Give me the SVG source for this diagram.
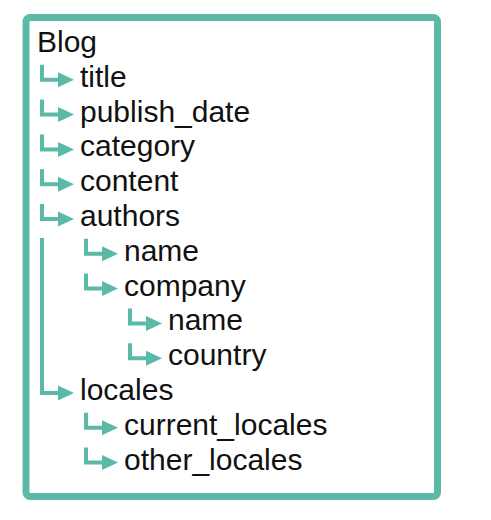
<svg xmlns="http://www.w3.org/2000/svg" width="491" height="520" viewBox="0 0 491 520">
<defs>
<style>
.t{font-family:"Liberation Sans",Arial,sans-serif;font-size:30px;fill:#111}
.c{fill:none;stroke:#5bb9a8;stroke-width:4}
.h{fill:#5bb9a8}
</style>
<g id="ar">
<path class="c" d="M-38,-22V-7H-20"/>
<polygon class="h" points="-22,-14.5 -6,-7 -22,0.5"/>
</g>
</defs>
<rect x="26" y="17.5" width="411.5" height="479" rx="4" fill="#fff" stroke="#5bb9a8" stroke-width="7"/>
<g id="connectors">
<use href="#ar" x="80" y="86.8"/>
<use href="#ar" x="80" y="121.6"/>
<use href="#ar" x="80" y="156.4"/>
<use href="#ar" x="80" y="191.2"/>
<use href="#ar" x="80" y="226"/>
<use href="#ar" x="124" y="260.8"/>
<use href="#ar" x="124" y="295.6"/>
<use href="#ar" x="168" y="330.4"/>
<use href="#ar" x="168" y="365.2"/>
<use href="#ar" x="80" y="400"/>
<line class="c" x1="42" y1="238" x2="42" y2="380"/>
<use href="#ar" x="124" y="434.8"/>
<use href="#ar" x="124" y="469.6"/>
</g>
<g id="n-blog"><text class="t" x="37" y="52">Blog</text></g>
<g id="n-title"><text class="t" x="80" y="86.8">title</text></g>
<g id="n-publish_date"><text class="t" x="80" y="121.6">publish_date</text></g>
<g id="n-category"><text class="t" x="80" y="156.4">category</text></g>
<g id="n-content"><text class="t" x="80" y="191.2">content</text></g>
<g id="n-authors"><text class="t" x="80" y="226">authors</text></g>
<g id="n-authors-name"><text class="t" x="124" y="260.8">name</text></g>
<g id="n-company"><text class="t" x="124" y="295.6">company</text></g>
<g id="n-company-name"><text class="t" x="168" y="330.4">name</text></g>
<g id="n-country"><text class="t" x="168" y="365.2">country</text></g>
<g id="n-locales"><text class="t" x="80" y="400">locales</text></g>
<g id="n-current_locales"><text class="t" x="124" y="434.8">current_locales</text></g>
<g id="n-other_locales"><text class="t" x="124" y="469.6">other_locales</text></g>
</svg>
